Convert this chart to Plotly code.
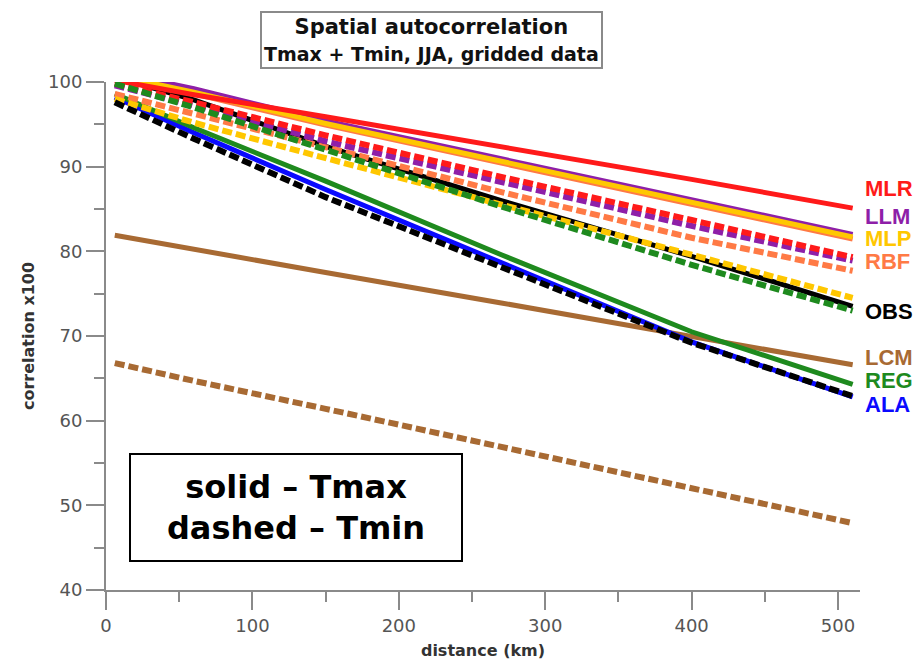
import plotly.graph_objects as go

# distances (km) at which values were read
distance = [6, 60, 150, 270, 400, 510]

# solid = Tmax
mlr_tmax = [100.2, 98.5, 95.9, 92.4, 88.5, 85.1]
llm_tmax = [101.2, 99.2, 95.4, 90.9, 86.1, 82.0]
mlp_tmax = [100.8, 98.8, 95.1, 90.6, 85.8, 81.7]
rbf_tmax = [100.6, 98.6, 94.9, 90.4, 85.6, 81.45]
obs_tmax = [100.6, 97.9, 92.4, 86.0, 79.4, 73.5]
lcm_tmax = [81.9, 80.3, 77.5, 73.9, 70.0, 66.6]
reg_tmax = [98.6, 94.6, 88.3, 79.6, 70.5, 64.3]
ala_tmax = [98.2, 94.0, 87.3, 78.7, 69.3, 62.8]

# dashed = Tmin
mlr_tmin = [99.8, 97.6, 93.7, 88.8, 83.7, 79.3]
llm_tmin = [99.6, 97.2, 93.0, 88.2, 83.0, 78.9]
rbf_tmin = [98.6, 96.3, 92.3, 87.0, 81.6, 77.7]
mlp_tmin = [98.0, 95.2, 91.0, 85.6, 79.6, 74.5]
reg_tmin = [99.8, 97.0, 92.0, 85.3, 78.4, 73.0]
obs_tmin = [97.6, 93.3, 86.4, 78.1, 69.2, 62.9]
lcm_tmin = [66.8, 64.7, 61.4, 56.9, 52.1, 47.9]

# right-hand labels
label_names = ["MLR", "LLM", "MLP", "RBF", "OBS", "LCM", "REG", "ALA"]
label_y = [87.4, 84.1, 81.5, 78.8, 72.9, 67.5, 64.7, 61.9]

colors = {
    "MLR": "#ff1a1a", "LLM": "#8e1fa8", "MLP": "#ffc700", "RBF": "#ff7a45",
    "OBS": "#000000", "LCM": "#a86a33", "REG": "#1e8a1e", "ALA": "#0a0aff",
}

FONT = "DejaVu Sans, Verdana, sans-serif"
LABEL_FONT = "Liberation Sans, Arial, sans-serif"

fig = go.Figure()

def add(name, ys, dashed):
    fig.add_trace(go.Scatter(
        x=distance, y=ys, mode="lines", name=name,
        line=dict(color=colors[name], width=6 if dashed else 5,
                  dash="10px,4px" if dashed else "solid"),
        showlegend=False,
    ))

add("LCM", lcm_tmax, False)
add("LCM", lcm_tmin, True)
add("ALA", ala_tmax, False)
add("REG", reg_tmax, False)
add("OBS", obs_tmax, False)
add("RBF", rbf_tmax, False)
add("LLM", llm_tmax, False)
add("MLP", mlp_tmax, False)
add("MLR", mlr_tmax, False)
add("RBF", rbf_tmin, True)
add("MLP", mlp_tmin, True)
add("LLM", llm_tmin, True)
add("MLR", mlr_tmin, True)
add("REG", reg_tmin, True)
add("OBS", obs_tmin, True)

annotations = []
for name, yv in zip(label_names, label_y):
    annotations.append(dict(
        x=1.0, xref="paper", y=yv, yref="y", xanchor="left", yanchor="middle",
        xshift=3, text="<b>%s</b>" % name, showarrow=False,
        font=dict(family=LABEL_FONT, size=22, color=colors[name]),
    ))

annotations.append(dict(
    x=0.4317, xref="paper", y=1.0827, yref="paper", xanchor="center", yanchor="middle",
    text="<b>Spatial autocorrelation</b><br><span style='font-size:19px'><b>Tmax + Tmin, JJA, gridded data</b></span>",
    showarrow=False, bordercolor="#8a8a8a", borderwidth=2, borderpad=2, bgcolor="white",
    font=dict(family=FONT, size=21, color="#111111"),
))

annotations.append(dict(
    x=0.252, xref="paper", y=0.163, yref="paper", xanchor="center", yanchor="middle",
    text="<b>solid – Tmax<br>dashed – Tmin</b>", showarrow=False,
    bordercolor="black", borderwidth=2, borderpad=0, bgcolor="white",
    width=330, height=105,
    font=dict(family=FONT, size=32, color="black"),
))

axis_font = dict(family=FONT, size=18, color="#555555")
title_font = dict(family=FONT, size=16, color="#333333")
fig.update_layout(
    width=907, height=652,
    margin=dict(l=98, r=55, t=74, b=70),
    plot_bgcolor="white", paper_bgcolor="white",
    annotations=annotations,
    xaxis=dict(
        range=[0, 515], tickvals=[0, 100, 200, 300, 400, 500], automargin=False,
        showgrid=False, zeroline=False, showline=True, linecolor="#8a8a8a", linewidth=2,
        ticks="outside", ticklen=18, tickwidth=2, tickcolor="#8a8a8a",
        minor=dict(tickvals=[50, 150, 250, 350, 450], ticks="outside", ticklen=10,
                   tickwidth=2, tickcolor="#8a8a8a"),
        tickfont=axis_font,
        title=dict(text="<b>distance (km)</b>", standoff=17, font=title_font),
    ),
    yaxis=dict(
        range=[40, 100], tickvals=[40, 50, 60, 70, 80, 90, 100], automargin=False,
        showgrid=False, zeroline=False, showline=True, linecolor="#8a8a8a", linewidth=2,
        ticks="outside", ticklen=18, tickwidth=2, tickcolor="#8a8a8a",
        minor=dict(tickvals=[45, 55, 65, 75, 85, 95], ticks="outside", ticklen=10,
                   tickwidth=2, tickcolor="#8a8a8a"),
        tickfont=axis_font,
        title=dict(text="<b>correlation x100</b>", standoff=9, font=title_font),
    ),
)

fig.write_html("out.html")
